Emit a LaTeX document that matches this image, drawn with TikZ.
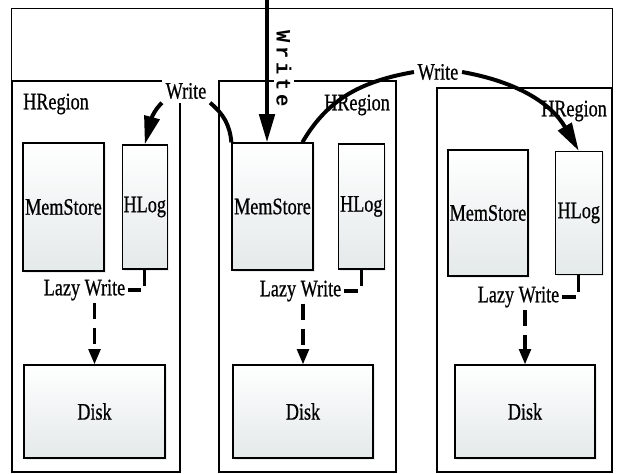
\documentclass[tikz,border=0pt]{standalone}
\usepackage{fontspec}
\setmainfont[FakeBold=0.8]{Liberation Serif}
\newfontfamily\wmono[LetterSpace=18]{Liberation Mono}
\usetikzlibrary{positioning}
\usetikzlibrary{arrows.meta,shadows}
\definecolor{boxgray}{RGB}{228,233,234}
\newcommand{\tallt}[1]{\scalebox{1}[1.3]{#1}}
\def\pxu{0.03cm}
\tikzset{
	region/.style 2 args={draw,line width=0.9pt,inner sep=0,minimum width=#1*\pxu,minimum height=#2*\pxu},
	store/.style 2 args={draw,line width=1.1pt,inner sep=0,top color=white,bottom color=boxgray,
		drop shadow={shadow xshift=1.5pt,shadow yshift=-1.5pt,fill=boxgray,opacity=0.8},
		minimum width=#1*\pxu,minimum height=#2*\pxu,font=\fontsize{15.5}{18}\selectfont},
	lbl/.style={inner sep=2pt,font=\fontsize{15.5}{18}\selectfont},
	wr/.style={line width=3.4pt},
	wrtip/.style={-{Triangle[length=24pt,width=13pt]}},
	lazy/.style={line width=2.6pt,dash pattern=on 14pt off 7pt},
	lazytip/.style={-{Triangle[length=13pt,width=10pt]}}
}
\begin{document}
\begin{tikzpicture}[x=0.03cm,y=-0.03cm]
	\useasboundingbox (0,0) rectangle (617,473);
	\draw[line width=0.8pt] (11,473) -- (11,8) -- (612,8) -- (612,473);
	% regions
	\node[region={168}{391}] (reg1) at (96,276.5) {};
	\node[region={177}{391}] (reg2) at (307.5,276.5) {};
	\node[region={175}{384}] (reg3) at (524.5,280) {};
	\node[lbl] (hr1) at (56,104) {\tallt{HRegion}};
	\node[lbl] (hr2) at (357,105) {\tallt{HRegion}};
	\node[lbl] (hr3) at (574,111) {\tallt{HRegion}};
	% write labels
	\node[lbl,fill=white,inner sep=3pt] (w1) at (186,91) {\tallt{Write}};
	\node[lbl,fill=white,inner sep=3pt] (w2) at (438,72) {\tallt{Write}};
	\node[fill=white,inner sep=2pt,rotate=-90,font=\wmono\bfseries\fontsize{17.5}{20}\selectfont] (w0) at (284,69) {Write};
	% stores and logs
	\node[store={81}{128}] (ms1) at (63.5,207) {\tallt{MemStore}};
	\node[store={45}{124}] (hl1) [right=0.51cm of ms1] {\tallt{HLog}};
	\node[store={81}{127}] (ms2) at (272.5,206.5) {\tallt{MemStore}};
	\node[store={46}{125}] (hl2) [right=0.72cm of ms2] {\tallt{HLog}};
	\node[store={80}{126}] (ms3) at (488,213) {\tallt{MemStore}};
	\node[store={47}{123}] (hl3) [right=0.78cm of ms3] {\tallt{HLog}};
	\node[store={141}{93}] (d1) at (94.5,411.5) {\tallt{Disk}};
	\node[store={140}{93}] (d2) at (303,411.5) {\tallt{Disk}};
	\node[store={140}{93}] (d3) at (525,411.5) {\tallt{Disk}};
	% lazy writes
	\node[lbl] (lz1) at (84.5,290) {\tallt{Lazy Write}};
	\node[lbl] (lz2) at (300.5,291) {\tallt{Lazy Write}};
	\node[lbl] (lz3) at (518.5,297) {\tallt{Lazy Write}};
	\draw[lazy] (hl1.south) |- (lz1.east);
	\draw[lazy] (hl2.south) |- (lz2.east);
	\draw[lazy] (hl3.south) |- (lz3.east);
	\draw[lazy,lazytip] (lz1.south -| d1.north) -- (d1.north);
	\draw[lazy,lazytip] (lz2.south -| d2.north) -- (d2.north);
	\draw[lazy,lazytip] (lz3.south -| d3.north) -- (d3.north);
	% writes
	\coordinate (top) at (267,0);
	\draw[wr,wrtip] (top) -- (top |- ms2.north);
	\draw[wr] (w1.south east) to[out=-40,in=95] (ms2.north west);
	\draw[wr,wrtip] (w1.south west) to[out=225,in=75] (hl1.north);
	\draw[wr] (ms2.65) to[out=60,in=190] (w2.west);
	\draw[wr,wrtip] (w2.east) to[out=-10,in=120] (hl3.north);
\end{tikzpicture}
\end{document}
